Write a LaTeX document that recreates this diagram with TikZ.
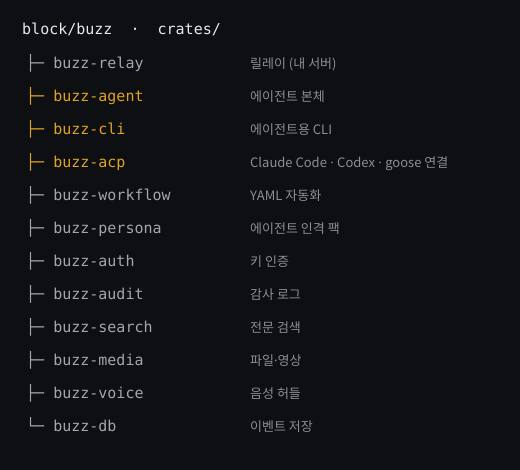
\documentclass[tikz,border=0pt]{standalone}
\usepackage{fontspec}
\setmonofont{DejaVu Sans Mono}
\newfontfamily\kofont{Noto Sans CJK KR}
\newfontfamily\latfont{Noto Sans}
\usetikzlibrary{positioning}

\definecolor{bgdark}{HTML}{0D0F12}
\definecolor{titlewhite}{HTML}{E6E8EA}
\definecolor{namegray}{HTML}{A2A7AC}
\definecolor{descgray}{HTML}{8C8E91}
\definecolor{hiorange}{HTML}{E0A222}

\newcommand{\dotsep}{{\latfont\ ·\ }}

\tikzset{
  crate/.style={anchor=base west, inner sep=0pt, font=\ttfamily\fontsize{15}{15}\selectfont, text=namegray},
  desc/.style={anchor=base west, inner sep=0pt, font=\kofont\fontsize{13}{13}\selectfont, text=descgray},
  hot/.style={text=hiorange}
}

\begin{document}
\begin{tikzpicture}[x=1pt, y=-1pt]
      \fill[bgdark] (0,0) rectangle (520,470);
      \useasboundingbox (0,0) rectangle (520,470);
      \node[crate, text=titlewhite] (root) at (22,35) {block/buzz\ \ ·\ \ crates/};
      \foreach \i/\name/\what/\sty in {
          1/relay/{릴레이 (내 서버)}/crate,
          2/agent/{에이전트 본체}/hot,
          3/cli/{에이전트용 CLI}/hot,
          4/acp/{Claude Code\dotsep Codex\dotsep goose 연결}/hot,
          5/workflow/{YAML 자동화}/crate,
          6/persona/{에이전트 인격 팩}/crate,
          7/auth/{키 인증}/crate,
          8/audit/{감사 로그}/crate,
          9/search/{전문 검색}/crate,
          10/media/{파일{\latfont ·}영상}/crate,
          11/voice/{음성 허들}/crate} {
        \node[crate, \sty] (c\i) at (26,36+33*\i) {├─ buzz-\name};
        \node[desc] (d\i) at (250,36+33*\i) {\what};
      }
      \node[crate] (c12) at (26,432) {└─ buzz-db};
      \node[desc] (d12) at (250,432) {이벤트 저장};
\end{tikzpicture}
\end{document}
